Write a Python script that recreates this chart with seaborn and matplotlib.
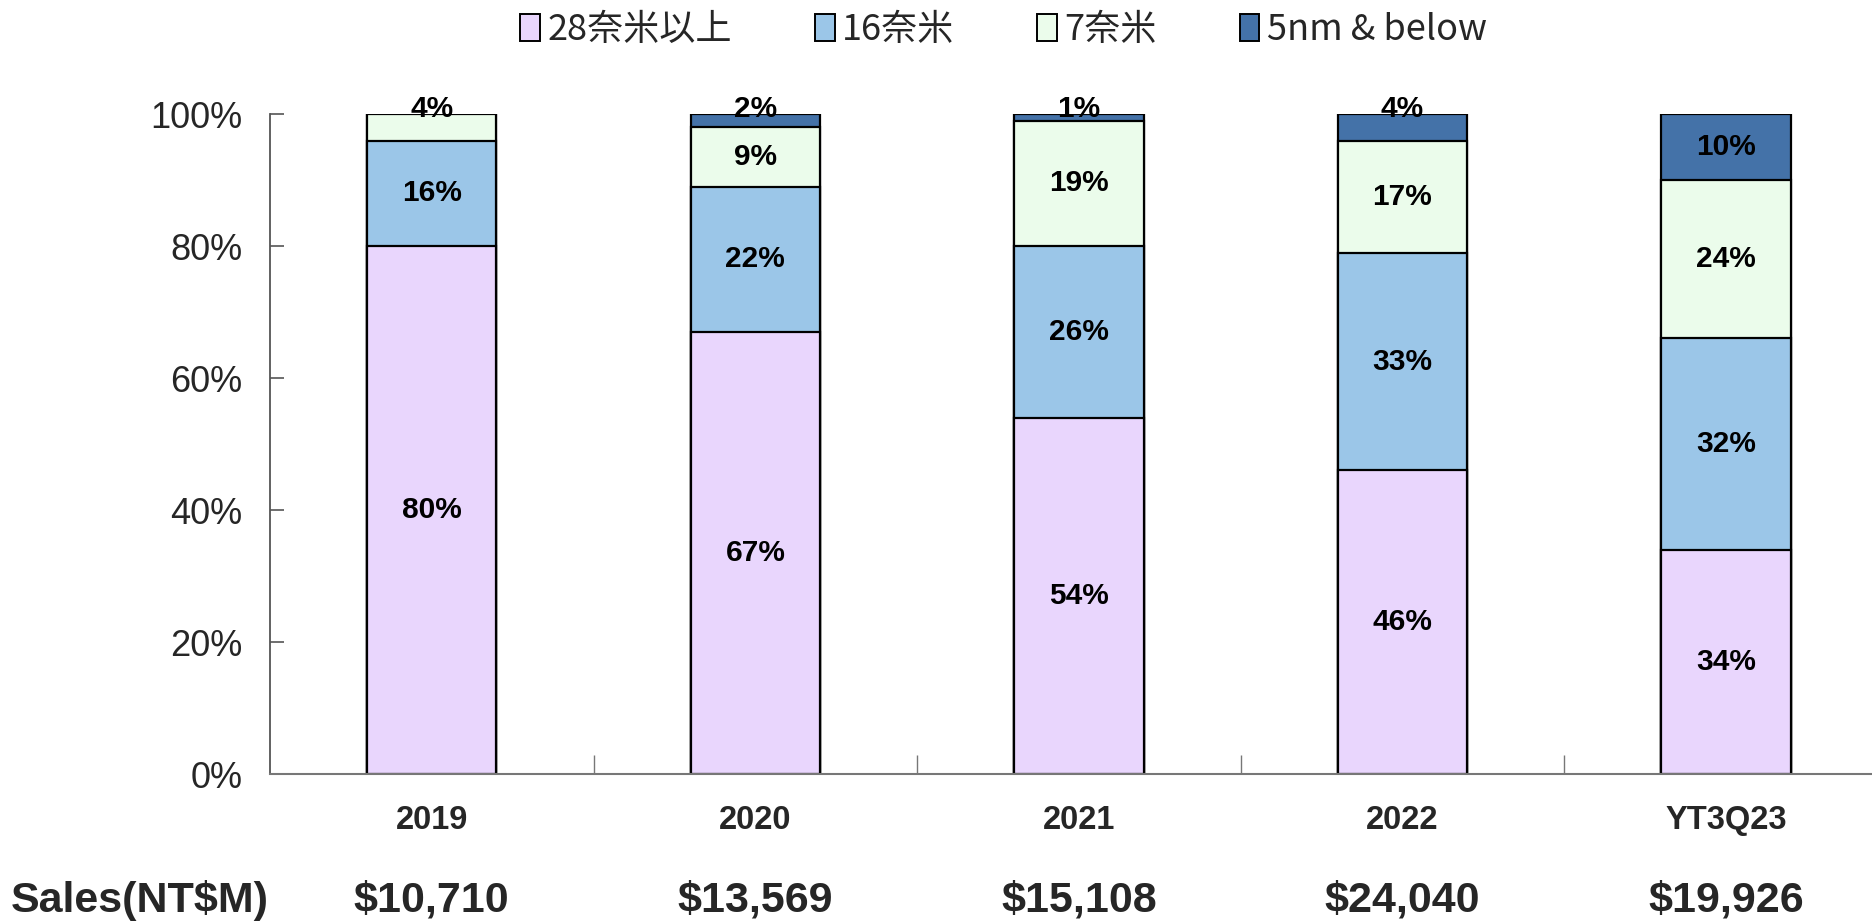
import matplotlib
matplotlib.use("Agg")
import matplotlib.pyplot as plt
import seaborn as sns
import numpy as np
from matplotlib.patches import Patch
from matplotlib.ticker import FixedLocator, PercentFormatter

categories = ["2019", "2020", "2021", "2022", "YT3Q23"]
series_names = ["28奈米以上", "16奈米", "7奈米", "5nm & below"]
nm28 = [80, 67, 54, 46, 34]
nm16 = [16, 22, 26, 33, 32]
nm7 = [4, 9, 19, 17, 24]
nm5 = [0, 2, 1, 4, 10]
sales = ["$10,710", "$13,569", "$15,108", "$24,040", "$19,926"]
sales_title = "Sales(NT$M)"
colors = ["#E9D6FD", "#9BC6E8", "#EBFCEB", "#4472A8"]

sns.set_theme(style="white")
plt.rcParams["font.family"] = ["Liberation Sans", "Noto Sans CJK TC", "DejaVu Sans"]

fig = plt.figure(figsize=(18.72, 9.21), dpi=100)
ax = fig.add_axes([0.1442, 0.1596, 0.8558, 0.7165])

series = [nm28, nm16, nm7, nm5]
cum = np.cumsum(np.array(series, dtype=float), axis=0) / 100.0

for i in range(3, -1, -1):
    sns.barplot(x=categories, y=cum[i], color=colors[i], saturation=1,
                edgecolor="black", linewidth=1.6, width=0.40, ax=ax)

# labels
for j in range(len(categories)):
    bottom = 0.0
    for i in range(4):
        v = series[i][j]
        h = v / 100.0
        if v > 0:
            if v < 5:
                y = 1.008
            else:
                y = bottom + h / 2
            ax.text(j, y, f"{v}%", ha="center", va="center", fontsize=21.5,
                    fontweight="bold", color="black")
        bottom += h

ax.set_ylim(0, 1.0)
ax.set_xlim(-0.5, 4.451)
ax.set_yticks([0, 0.2, 0.4, 0.6, 0.8, 1.0])
ax.yaxis.set_major_formatter(PercentFormatter(1.0, decimals=0))
ax.tick_params(axis="y", direction="in", length=10, width=1.2, color="#555555",
               labelsize=26, pad=20, left=True)
ax.set_xticks(range(len(categories)))
ax.set_xticklabels(categories, fontsize=23.5, fontweight="bold")
ax.tick_params(axis="x", which="major", length=0, pad=22)
ax.xaxis.set_minor_locator(FixedLocator([0.5, 1.5, 2.5, 3.5]))
ax.tick_params(axis="x", which="minor", direction="in", length=14, width=1.0,
               color="#777777", bottom=True)
ax.set_xlabel("")
ax.set_ylabel("")
for s in ["top", "right"]:
    ax.spines[s].set_visible(False)
ax.spines["left"].set_color("#555555")
ax.spines["left"].set_linewidth(1.3)
ax.spines["bottom"].set_color("#777777")
ax.spines["bottom"].set_linewidth(1.5)
ax.set_facecolor("white")
ax.grid(False)

# sales row
fig.text(140 / 1872, 1 - 900 / 921, sales_title, ha="center", va="center",
         fontsize=31, fontweight="bold")
trans = matplotlib.transforms.blended_transform_factory(ax.transData, fig.transFigure)
for j, s in enumerate(sales):
    ax.text(j, 1 - 900 / 921, s, transform=trans, ha="center", va="center",
            fontsize=31, fontweight="bold", clip_on=False)

handles = [Patch(facecolor=c, edgecolor="black", linewidth=1.4) for c in colors]
fig.legend(handles, series_names, loc="center", bbox_to_anchor=(0.536, 1 - 30 / 921),
           ncol=4, frameon=False, prop={"family": ["Noto Sans CJK TC", "DejaVu Sans"], "size": 26},
           handlelength=0.55, handleheight=0.75, handletextpad=0.2, columnspacing=2.3)

fig.savefig("out.png", dpi=100, facecolor="white")
